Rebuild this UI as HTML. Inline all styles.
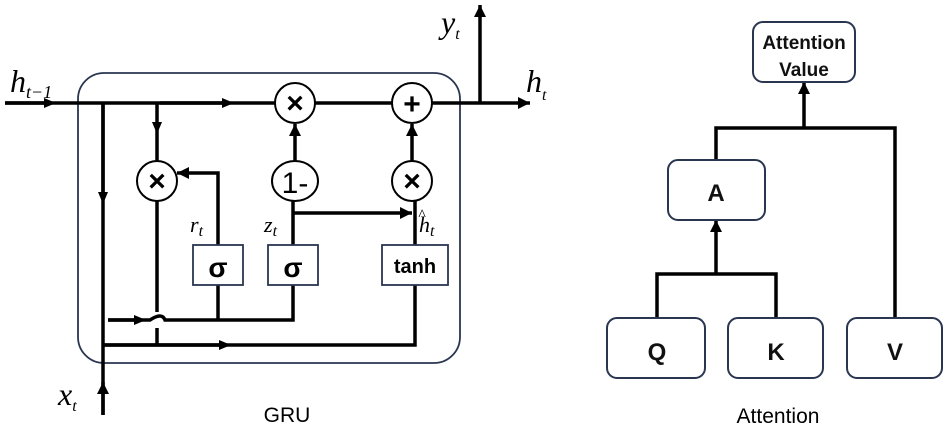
<!DOCTYPE html>
<html><head><meta charset="utf-8"><style>
body{margin:0;background:#fff;}
svg{display:block;font-family:"Liberation Sans",sans-serif;}
.it{font-family:"Liberation Serif",serif;font-style:italic;}
</style></head><body>
<svg width="950" height="433" viewBox="0 0 950 433">
<defs>
<marker id="a" markerWidth="12" markerHeight="10" refX="6" refY="5" orient="auto" markerUnits="userSpaceOnUse"><path d="M0,0 L12,5 L0,10 z" fill="#000"/></marker>
<marker id="e" markerWidth="12" markerHeight="12" refX="12" refY="6" orient="auto" markerUnits="userSpaceOnUse"><path d="M0,0 L12,6 L0,12 z" fill="#000"/></marker>
</defs>
<g stroke="#000" stroke-width="3.5" fill="none">
<rect x="78" y="73" width="382" height="290" rx="26" stroke="#2a3650" stroke-width="1.8"/>
<path d="M5 103 H275" />
<path d="M315 103 H392"/>
<path d="M432 103 H530" marker-end="url(#e)"/>
<path d="M5 103 H50" marker-end="url(#a)"/>
<path d="M160 103 H228" marker-end="url(#a)"/>
<path d="M480 103 V5" marker-end="url(#e)"/>
<path d="M103 103 V415"/>
<path d="M103 415 V382" marker-end="url(#e)"/>
<path d="M103 103 V198" marker-end="url(#a)"/>
<path d="M157 103 V128" marker-end="url(#a)"/>
<path d="M157 128 V161"/>
<path d="M157 201 V312 M157 328 V345"/>
<path d="M218 245 V173 H177" marker-end="url(#e)"/>
<path d="M293 245 V201"/>
<path d="M295 161 V124" marker-end="url(#e)"/>
<path d="M293 213 H412" marker-end="url(#e)"/>
<path d="M415 245 V201"/>
<path d="M412 161 V124" marker-end="url(#e)"/>
<path d="M108 320 H140" marker-end="url(#a)"/>
<path d="M108 320 H150 Q162 312 165 320 H293 V285"/>
<path d="M218 320 V285"/>
<path d="M103 345 H415 V285"/>
<path d="M103 345 H225" marker-end="url(#a)"/>
</g>
<g stroke="#000" stroke-width="2" fill="#fff">
<circle cx="295" cy="103" r="20"/><circle cx="412" cy="103" r="20"/>
<circle cx="157" cy="181" r="20"/><ellipse cx="295" cy="181" rx="23" ry="20"/><circle cx="412" cy="181" r="20"/>
</g>
<g stroke="#2a3650" stroke-width="1.8" fill="#fff">
<rect x="193" y="245" width="50" height="40"/><rect x="268" y="245" width="50" height="40"/><rect x="382" y="245" width="66" height="40"/>
</g>
<g font-size="30" text-anchor="middle" font-weight="bold">
<text x="295" y="113">×</text><text x="412" y="114">+</text><text x="157" y="191">×</text><text x="412" y="191">×</text>
<text x="295" y="193" font-size="30" font-weight="normal">1-</text>
<text x="218" y="277" font-size="28">σ</text><text x="293" y="277" font-size="28">σ</text>
<text x="415" y="273" font-size="20">tanh</text>
</g>
<text x="287" y="422" font-size="21" text-anchor="middle">GRU</text>
<g class="it" font-size="32">
<text x="10" y="92">h<tspan font-size="18" dy="6">t−1</tspan></text>
<text x="526" y="92">h<tspan font-size="16" dy="8">t</tspan></text>
<text x="441" y="33">y<tspan font-size="16" dy="6">t</tspan></text>
<text x="58" y="405">x<tspan font-size="16" dy="6">t</tspan></text>
<text x="190" y="232" font-size="22">r<tspan font-size="16" dy="4">t</tspan></text>
<text x="264" y="232" font-size="22">z<tspan font-size="16" dy="4">t</tspan></text>
<text x="419" y="232" font-size="22">h<tspan font-size="16" dy="4">t</tspan></text>
<text x="418" y="220" font-size="16">^</text>
</g>
<g stroke="#000" stroke-width="3.5" fill="none">
<path d="M716 160 V128 H895 V318"/>
<path d="M804 128 V82" marker-end="url(#e)"/>
<path d="M657 318 V274 H776 V318"/>
<path d="M716 274 V220" marker-end="url(#e)"/>
</g>
<g stroke="#2a3650" stroke-width="2" fill="#fff">
<rect x="753" y="22" width="102" height="60" rx="10"/>
<rect x="668" y="160" width="97" height="60" rx="10"/>
<rect x="607" y="318" width="98" height="60" rx="10"/>
<rect x="728" y="318" width="95" height="60" rx="10"/>
<rect x="847" y="318" width="95" height="60" rx="10"/>
</g>
<g font-size="24" text-anchor="middle" fill="#111" font-weight="bold">
<text x="804" y="49" font-size="19">Attention</text>
<text x="804" y="76" font-size="19">Value</text>
<text x="716" y="201">A</text>
<text x="657" y="360">Q</text><text x="776" y="360">K</text><text x="895" y="360">V</text>
</g>
<text x="778" y="423" font-size="21" text-anchor="middle">Attention</text>
</svg>
</body></html>
